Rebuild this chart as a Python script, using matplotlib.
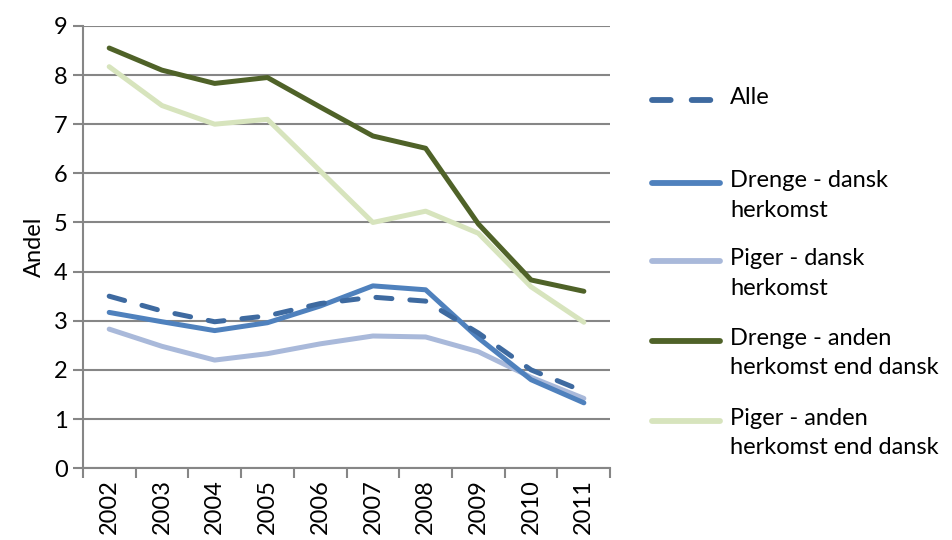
import numpy as np
import matplotlib
matplotlib.use("Agg")
from matplotlib import pyplot as plt
from matplotlib.lines import Line2D

plt.rcParams['font.family'] = ['Lato', 'DejaVu Sans']

years = ['2002', '2003', '2004', '2005', '2006', '2007', '2008', '2009', '2010', '2011']
alle = [3.5, 3.2, 2.98, 3.1, 3.35, 3.48, 3.4, 2.75, 2.0, 1.56]
drenge_dansk = [3.17, 2.98, 2.8, 2.96, 3.3, 3.71, 3.63, 2.65, 1.8, 1.33]
piger_dansk = [2.83, 2.48, 2.2, 2.33, 2.53, 2.69, 2.67, 2.37, 1.85, 1.42]
drenge_anden = [8.55, 8.1, 7.83, 7.95, 7.35, 6.76, 6.51, 4.97, 3.83, 3.6]
piger_anden = [8.17, 7.38, 7.0, 7.1, 6.05, 5.0, 5.23, 4.78, 3.69, 2.97]

labels = ['Alle', 'Drenge - dansk\nherkomst', 'Piger - dansk\nherkomst',
          'Drenge - anden\nherkomst end dansk', 'Piger - anden\nherkomst end dansk']
colors = ['#3E6AA0', '#4F81BD', '#A9B9DA', '#4F6228', '#D7E4BD']

fig = plt.figure(figsize=(9.52, 5.4), dpi=100)
ax = fig.add_axes([0.087, 0.133, 0.554, 0.819])

x = np.arange(len(years))
lw = 3.6
ax.plot(x, piger_anden, color=colors[4], lw=lw, solid_capstyle='round', zorder=3)
ax.plot(x, drenge_anden, color=colors[3], lw=lw, solid_capstyle='round', zorder=4)
ax.plot(x, piger_dansk, color=colors[2], lw=lw, solid_capstyle='round', zorder=5)
ax.plot(x, drenge_dansk, color=colors[1], lw=lw, solid_capstyle='round', zorder=6)
ax.plot(x, alle, color=colors[0], lw=lw, dashes=(3.2, 3.6), dash_capstyle='round', zorder=7)

ax.set_xlim(-0.5, len(years) - 0.5)
ax.set_ylim(0, 9)
ax.set_yticks(range(0, 10))
ax.set_xticks(x)
ax.set_xticklabels(years, rotation=90)
ax.set_xticks(np.arange(-0.5, len(years)), minor=True)
ax.tick_params(axis='x', which='major', length=0, labelsize=17, pad=8)
ax.tick_params(axis='x', which='minor', length=7, width=1.5, color='#868686')
ax.tick_params(axis='y', length=7, width=1.5, color='#868686', labelsize=17, pad=4)
ax.grid(axis='y', color='#868686', lw=1.5)
ax.set_axisbelow(True)
for s in ['top', 'right']:
    ax.spines[s].set_visible(False)
for s in ['left', 'bottom']:
    ax.spines[s].set_color('#868686')
    ax.spines[s].set_linewidth(1.5)
ax.set_ylabel('Andel', fontsize=17, labelpad=6)

# legend by hand, handle next to the first text line
leg_y = [100, 183, 261, 341, 421]
for i, (lab, col, yy) in enumerate(zip(labels, colors, leg_y)):
    fy = 1 - yy / 540
    kw = dict(dashes=(3.2, 3.6), dash_capstyle='round') if i == 0 else dict(solid_capstyle='round')
    fig.add_artist(Line2D([652 / 952, 720 / 952], [fy, fy], color=col, lw=4.2, **kw))
    fig.text(730 / 952, fy + 13 / 540, lab, fontsize=17, va='top', ha='left',
             linespacing=1.5)

fig.savefig('out.png', dpi=100)
